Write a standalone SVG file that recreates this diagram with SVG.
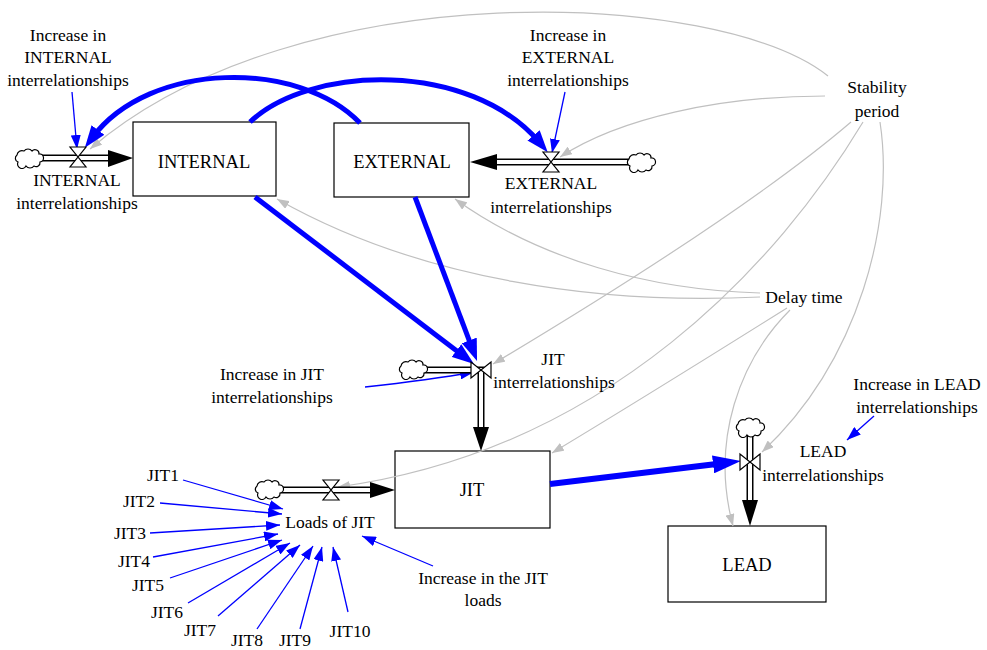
<svg xmlns="http://www.w3.org/2000/svg" width="987" height="650" viewBox="0 0 987 650" font-family="'Liberation Serif', 'Times New Roman', 'DejaVu Serif', serif">
  <style>
    text { font-family: 'Liberation Serif', 'Times New Roman', 'DejaVu Serif', serif; font-size: 17.5px; fill: #000; text-anchor: middle; }
    .stock text { font-size: 18.5px; }
    .stock rect { fill: #fff; stroke: #000; stroke-width: 1.2; }
    .pipe-out { fill: none; stroke: #000; stroke-width: 7; stroke-linejoin: miter; }
    .pipe-in { fill: none; stroke: #fff; stroke-width: 4; stroke-linejoin: miter; }
    .head { fill: #000; }
    .valve { fill: #fff; stroke: #000; stroke-width: 1.2; }
    .cloud { fill: #fff; stroke: #000; stroke-width: 1.2; }
    .thick { fill: none; stroke: #0000ff; stroke-width: 5; }
    .thicker { fill: none; stroke: #0000ff; stroke-width: 6; }
    .thin { fill: none; stroke: #0000ff; stroke-width: 1.3; marker-end: url(#mThin); }
    .info { fill: none; stroke: #c0c0c0; stroke-width: 1.2; marker-end: url(#mGray); }
  </style>
  <defs>
    <marker id="mThin" markerUnits="userSpaceOnUse" markerWidth="14" markerHeight="10" refX="14" refY="5" orient="auto">
      <path d="M0,0 L14,5 L0,10 Z" fill="#0000ff"/>
    </marker>
    <marker id="mThick" markerUnits="userSpaceOnUse" markerWidth="22" markerHeight="16" refX="10" refY="8" orient="auto">
      <path d="M0,0 L22,8 L0,16 Z" fill="#0000ff"/>
    </marker>
    <marker id="mThicker" markerUnits="userSpaceOnUse" markerWidth="28" markerHeight="18" refX="14" refY="9" orient="auto">
      <path d="M0,0 L28,9 L0,18 Z" fill="#0000ff"/>
    </marker>
    <marker id="mGray" markerUnits="userSpaceOnUse" markerWidth="12" markerHeight="9" refX="12" refY="4.5" orient="auto">
      <path d="M0,0 L12,4.5 L0,9 Z" fill="#c0c0c0"/>
    </marker>
    <path id="cloud" class="cloud" d="M-11,4 a4,4 0 0 1 -1,-7 a5,5 0 0 1 7,-4 a5,5 0 0 1 8,0 a4,4 0 0 1 7,3 a4,4 0 0 1 1,8 a4,4 0 0 1 -6,4 a5,5 0 0 1 -8,0 a4,4 0 0 1 -8,-4 Z"/>
    <path id="valveV" class="valve" d="M-8,-10 H8 L-8,10 H8 Z"/>
    <path id="valveH" class="valve" d="M-10,-8 V8 L10,-8 V8 Z"/>
  </defs>

  <!-- stocks -->
  <g id="INTERNAL" class="stock">
    <rect x="133" y="122" width="143" height="74"/>
    <text x="204" y="168">INTERNAL</text>
  </g>
  <g id="EXTERNAL" class="stock">
    <rect x="334" y="123" width="135" height="74"/>
    <text x="402" y="168">EXTERNAL</text>
  </g>
  <g id="JIT" class="stock">
    <rect x="395" y="451" width="155" height="77"/>
    <text x="472" y="496">JIT</text>
  </g>
  <g id="LEAD" class="stock">
    <rect x="668" y="526" width="158" height="76"/>
    <text x="747" y="571">LEAD</text>
  </g>

  <!-- links between variables -->
  <g id="connectors">
    <!-- information links (grey) -->
    <path class="info" d="M828,76 C720,-10 300,-30 90,149"/>
    <path class="info" d="M825,96 C720,96 620,118 560,157"/>
    <path class="info" d="M851,122 C760,200 600,300 493,364"/>
    <path class="info" d="M863,122 C780,260 610,450 338,487"/>
    <path class="info" d="M880,122 C895,220 860,360 762,452"/>
    <path class="info" d="M760,297 C600,305 420,280 277,199"/>
    <path class="info" d="M760,293 C650,290 540,260 455,199"/>
    <path class="info" d="M787,308 C720,350 640,400 552,453"/>
    <path class="info" d="M790,310 C740,360 710,440 733,526"/>

    <!-- stock-to-rate links (thick blue) -->
    <path class="thick" marker-end="url(#mThick)" d="M360,123 C300,60 150,60 92,138"/>
    <path class="thick" marker-end="url(#mThick)" d="M250,122 C310,65 470,60 540,143"/>
    <path class="thick" marker-end="url(#mThick)" d="M255,197 L464.4,356.7"/>
    <path class="thick" marker-end="url(#mThick)" d="M415,197 L472.8,349.8"/>
    <path class="thicker" marker-end="url(#mThicker)" d="M550,484 L727,462.7"/>

    <!-- auxiliary links (thin blue) -->
    <path class="thin" d="M72,92 L77,149"/>
    <path class="thin" d="M565,92 L552,153"/>
    <path class="thin" d="M365,387 Q430,380 474,372"/>
    <path class="thin" d="M874,416 L847,440"/>
    <path class="thin" d="M183,480 L283,509"/>
    <path class="thin" d="M160,503 L282,514"/>
    <path class="thin" d="M150,533 L280,525"/>
    <path class="thin" d="M153,557 L278,534"/>
    <path class="thin" d="M170,578 L282,540"/>
    <path class="thin" d="M188,603 L290,543"/>
    <path class="thin" d="M218,616 L300,545"/>
    <path class="thin" d="M257,629 L313,546"/>
    <path class="thin" d="M300,629 L322,547"/>
    <path class="thin" d="M348,612 L333,547"/>
    <path class="thin" d="M433,566 L362,536"/>
  </g>

  <!-- flows -->
  <g id="INTERNAL_interrelationships">
    <line class="pipe-out" x1="40" y1="158" x2="109" y2="158"/>
    <line class="pipe-in" x1="40" y1="158" x2="110" y2="158"/>
    <use href="#cloud" x="29" y="158"/>
    <polygon class="head" points="108,150 133,158 108,167"/>
    <use href="#valveV" x="78" y="157"/>
    <text x="77" y="186">INTERNAL</text>
    <text x="77" y="209">interrelationships</text>
  </g>
  <g id="EXTERNAL_interrelationships">
    <line class="pipe-out" x1="496" y1="162" x2="630" y2="162"/>
    <line class="pipe-in" x1="495" y1="162" x2="630" y2="162"/>
    <use href="#cloud" x="641" y="162"/>
    <polygon class="head" points="497,154 470,162 497,170"/>
    <use href="#valveV" x="551" y="162"/>
    <text x="551" y="189">EXTERNAL</text>
    <text x="551" y="213">interrelationships</text>
  </g>
  <g id="JIT_interrelationships">
    <polyline class="pipe-out" points="424,370 481,370 481,428"/>
    <polyline class="pipe-in" points="424,370 481,370 481,429"/>
    <use href="#cloud" x="413" y="369"/>
    <polygon class="head" points="473,427 489,427 481,451"/>
    <use href="#valveH" x="481" y="370"/>
    <text x="553" y="365">JIT</text>
    <text x="554" y="388">interrelationships</text>
  </g>
  <g id="Loads_of_JIT">
    <line class="pipe-out" x1="280" y1="490" x2="371" y2="490"/>
    <line class="pipe-in" x1="280" y1="490" x2="372" y2="490"/>
    <use href="#cloud" x="269" y="489"/>
    <polygon class="head" points="370,482 395,490 370,498"/>
    <use href="#valveV" x="331" y="490"/>
    <text x="330" y="528">Loads of JIT</text>
  </g>
  <g id="LEAD_interrelationships">
    <line class="pipe-out" x1="750" y1="436" x2="750" y2="501"/>
    <line class="pipe-in" x1="750" y1="436" x2="750" y2="502"/>
    <use href="#cloud" x="750" y="427"/>
    <polygon class="head" points="742,500 758,500 750,526"/>
    <use href="#valveH" x="750" y="462"/>
    <text x="823" y="457">LEAD</text>
    <text x="823" y="481">interrelationships</text>
  </g>

  <!-- auxiliaries and constants -->
  <g id="Increase_in_INTERNAL_interrelationships">
    <text x="68" y="41">Increase in</text>
    <text x="68" y="63">INTERNAL</text>
    <text x="68" y="86">interrelationships</text>
  </g>
  <g id="Increase_in_EXTERNAL_interrelationships">
    <text x="568" y="41">Increase in</text>
    <text x="568" y="63">EXTERNAL</text>
    <text x="568" y="86">interrelationships</text>
  </g>
  <g id="Stability_period">
    <text x="877" y="93">Stability</text>
    <text x="877" y="117">period</text>
  </g>
  <g id="Delay_time">
    <text x="804" y="303">Delay time</text>
  </g>
  <g id="Increase_in_JIT_interrelationships">
    <text x="272" y="380">Increase in JIT</text>
    <text x="272" y="403">interrelationships</text>
  </g>
  <g id="Increase_in_LEAD_interrelationships">
    <text x="917" y="390">Increase in LEAD</text>
    <text x="917" y="413">interrelationships</text>
  </g>
  <g id="Increase_in_the_JIT_loads">
    <text x="483" y="584">Increase in the JIT</text>
    <text x="483" y="606">loads</text>
  </g>
  <g id="JIT1"><text x="163" y="481">JIT1</text></g>
  <g id="JIT2"><text x="139" y="507">JIT2</text></g>
  <g id="JIT3"><text x="130" y="539">JIT3</text></g>
  <g id="JIT4"><text x="134" y="567">JIT4</text></g>
  <g id="JIT5"><text x="148" y="591">JIT5</text></g>
  <g id="JIT6"><text x="167" y="618">JIT6</text></g>
  <g id="JIT7"><text x="200" y="636">JIT7</text></g>
  <g id="JIT8"><text x="247" y="646">JIT8</text></g>
  <g id="JIT9"><text x="295" y="646">JIT9</text></g>
  <g id="JIT10"><text x="350" y="637">JIT10</text></g>
</svg>
